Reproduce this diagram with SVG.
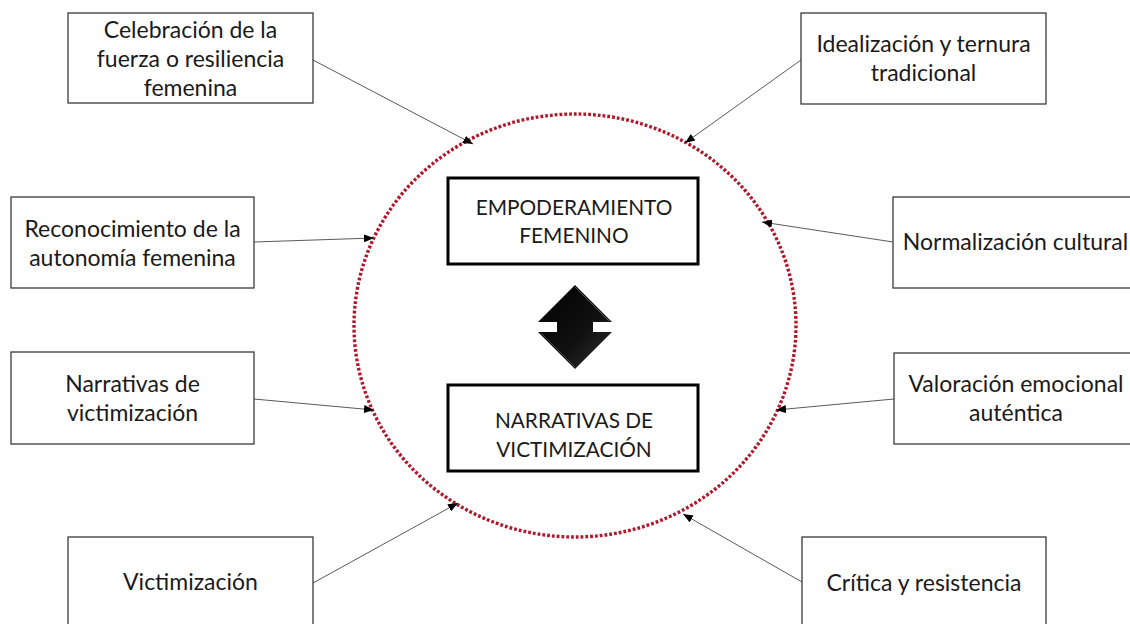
<svg xmlns="http://www.w3.org/2000/svg" width="1130" height="624" viewBox="0 0 1130 624">
<style>
text{font-family:Lato,"Open Sans","Liberation Sans",sans-serif;font-size:23px;fill:#1a1a1a;text-anchor:middle}
text.cap{font-size:20.8px}
.box{fill:#fff;stroke:#3a3a3a;stroke-width:1.3}
.core{fill:#fff;stroke:#000;stroke-width:3}
.conn{stroke:#5a5a5a;stroke-width:1;fill:none;marker-end:url(#ah)}
</style>
<defs>
<marker id="ah" markerUnits="userSpaceOnUse" markerWidth="10" markerHeight="8" refX="10" refY="4" orient="auto">
<path d="M0,0 L10,4 L0,8 Z" fill="#000"/>
</marker>
<linearGradient id="bev" x1="0" y1="0" x2="1" y2="1">
<stop offset="0" stop-color="#000"/>
<stop offset="0.6" stop-color="#111"/>
<stop offset="1" stop-color="#333"/>
</linearGradient>
</defs>
<rect width="1130" height="624" fill="#fff"/>
<ellipse id="ring" cx="575" cy="325.5" rx="221" ry="211.5" fill="none" stroke="#B0182C" stroke-width="3.4" stroke-dasharray="2.8 2"/>
<g id="connectors">
<line class="conn" x1="313" y1="60" x2="473" y2="144"/>
<line class="conn" x1="801" y1="60" x2="685" y2="143"/>
<line class="conn" x1="254" y1="242" x2="374" y2="238"/>
<line class="conn" x1="893" y1="242" x2="762" y2="222"/>
<line class="conn" x1="254" y1="399" x2="374" y2="410"/>
<line class="conn" x1="894" y1="399" x2="776" y2="410"/>
<line class="conn" x1="313" y1="583" x2="458" y2="503"/>
<line class="conn" x1="802" y1="582" x2="683" y2="514"/>
</g>
<g id="n1"><rect class="box" x="68" y="13" width="245" height="90"/><text x="190.5" y="37.5">Celebración de la</text><text x="190.5" y="66.5">fuerza o resiliencia</text><text x="190.5" y="95.5">femenina</text></g>
<g id="n2"><rect class="box" x="801" y="13" width="245" height="91"/><text x="923.5" y="52">Idealización y ternura</text><text x="923.5" y="81">tradicional</text></g>
<g id="n3"><rect class="box" x="11" y="197" width="243" height="91"/><text x="132.5" y="237">Reconocimiento de la</text><text x="132.5" y="266">autonomía femenina</text></g>
<g id="n4"><rect class="box" x="893" y="197" width="245" height="91"/><text x="1015.5" y="250">Normalización cultural</text></g>
<g id="n5"><rect class="box" x="11" y="352" width="243" height="92"/><text x="132.5" y="392">Narrativas de</text><text x="132.5" y="421">victimización</text></g>
<g id="n6"><rect class="box" x="894" y="353" width="244" height="91"/><text x="1016" y="392">Valoración emocional</text><text x="1016" y="421">auténtica</text></g>
<g id="n7"><rect class="box" x="68" y="537" width="245" height="95"/><text x="190.5" y="590">Victimización</text></g>
<g id="n8"><rect class="box" x="802" y="537" width="244" height="95"/><text x="924" y="591">Crítica y resistencia</text></g>
<g id="c1"><rect class="core" x="448" y="178" width="250" height="86"/><text class="cap" x="574" y="215">EMPODERAMIENTO</text><text class="cap" x="574" y="243">FEMENINO</text></g>
<g id="c2"><rect class="core" x="448" y="385" width="250" height="86"/><text class="cap" x="574" y="428">NARRATIVAS DE</text><text class="cap" x="574" y="457">VICTIMIZACIÓN</text></g>
<g id="dbl"><polygon points="575,285 612,322 593,322 593,332 612,332 575,369 538,332 557,332 557,322 538,322" fill="url(#bev)"/>
<path d="M575,287 L609,321" stroke="#555" stroke-width="1" fill="none"/>
<path d="M541,333 L575,367" stroke="#444" stroke-width="1" fill="none"/>
</g>
</svg>
